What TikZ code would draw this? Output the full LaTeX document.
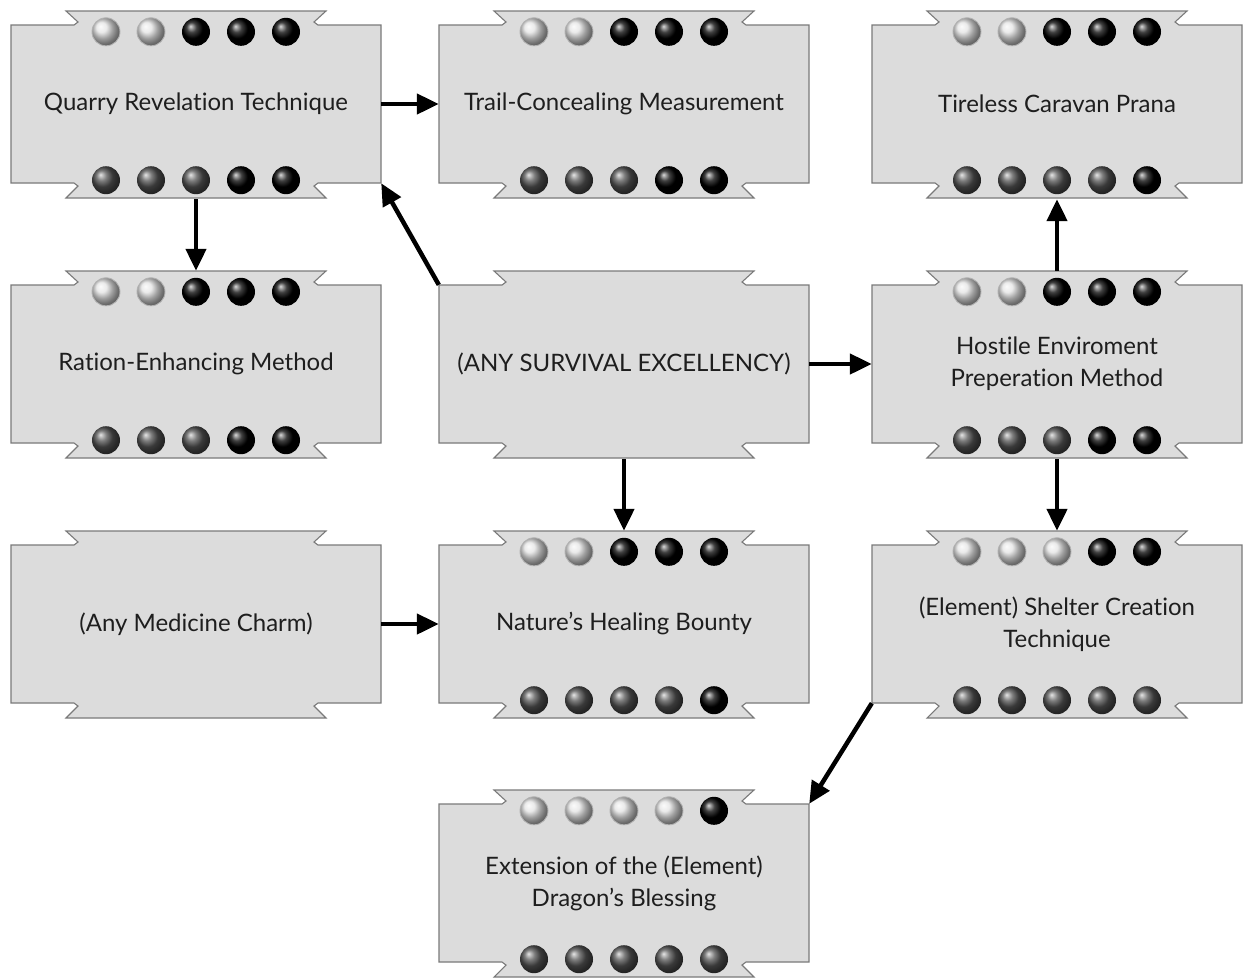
\documentclass[tikz,border=0pt]{standalone}
\usepackage{fontspec}
\setmainfont{Lato}[Ligatures={NoCommon}]
\usetikzlibrary{calc,arrows.meta,shadings}

\definecolor{cardfill}{HTML}{DCDCDC}
\definecolor{cardedge}{HTML}{7A7A7A}
\definecolor{inktext}{HTML}{1E1E1E}

\tikzset{
  card/.style={rectangle, minimum width=370pt, minimum height=158pt,
    inner sep=0pt, align=center, text=inktext,
    font=\fontsize{24}{32}\selectfont},
  bannerline/.style={fill=cardfill, draw=cardedge, line width=1.1pt,
    line join=miter},
  pipL/.style={shading=ball, ball color=gray!22},
  pipLring/.style={draw=gray!60, line width=0.9pt},
  pipD/.style={shading=ball, ball color=black!68},
  pipB/.style={shading=ball, ball color=black},
  link/.style={line width=4.5pt, -{Triangle[length=22pt,width=20pt]}},
}

% banner-shaped card outline drawn around a named node
\newcommand{\bannercard}[1]{%
  \begin{scope}[shift={(#1.center)}]
    \path[bannerline]
      (-185,79) -- (-122,79) -- (-118,82) -- (-130,93)
      -- (130,93) -- (118,82) -- (122,79) -- (185,79)
      -- (185,-79) -- (122,-79) -- (118,-82) -- (130,-94)
      -- (-130,-94) -- (-118,-82) -- (-122,-79) -- (-185,-79) -- cycle;
  \end{scope}}

% two rows of five pips on a card: top list, bottom list (L, D or B)
\newcommand{\pipdraw}[3]{%
  \shade[pip#1] (#2) circle (#3);
  \if L#1\draw[pipLring] (#2) circle (#3);\fi}
\newcommand{\piprows}[3]{%
  \foreach \c [count=\i] in {#2}
    {\pipdraw{\c}{$(#1.north)+(\i*45-135,-7)$}{14}}
  \foreach \c [count=\i] in {#3}
    {\pipdraw{\c}{$(#1.south)+(\i*45-135,3)$}{14}}}

\begin{document}
\begin{tikzpicture}[x=1pt,y=1pt]
\useasboundingbox[fill=white] (0,0) rectangle (1246,-978);

% card positions
\coordinate (p11) at (196,-104);
\coordinate (p12) at (624,-104);
\coordinate (p13) at (1057,-104);
\coordinate (p21) at (196,-364);
\coordinate (p22) at (624,-364);
\coordinate (p23) at (1057,-364);
\coordinate (p31) at (196,-624);
\coordinate (p32) at (624,-624);
\coordinate (p33) at (1057,-624);
\coordinate (p42) at (624,-883);

% card backgrounds
\foreach \p in {p11,p12,p13,p21,p22,p23,p31,p32,p33,p42}
  \bannercard{\p};

% card texts
\node[card] (qrt) at (p11) {Quarry Revelation Technique};
\node[card] (tcm) at (p12) {Trail-Concealing Measurement};
\node[card] (tcp) at (p13) {Tireless Caravan Prana};
\node[card] (rem) at (p21) {Ration-Enhancing Method};
\node[card] (ase) at (p22) {(ANY SURVIVAL EXCELLENCY)};
\node[card] (hep) at (p23) {Hostile Enviroment\\Preperation Method};
\node[card] (amc) at (p31) {(Any Medicine Charm)};
\node[card] (nhb) at (p32) {Nature’s Healing Bounty};
\node[card] (sct) at (p33) {(Element) Shelter Creation\\Technique};
\node[card] (edb) at (p42) {Extension of the (Element)\\Dragon’s Blessing};

% pips
\piprows{qrt}{L,L,B,B,B}{D,D,D,B,B}
\piprows{tcm}{L,L,B,B,B}{D,D,D,B,B}
\piprows{tcp}{L,L,B,B,B}{D,D,D,D,B}
\piprows{rem}{L,L,B,B,B}{D,D,D,B,B}
\piprows{hep}{L,L,B,B,B}{D,D,D,B,B}
\piprows{nhb}{L,L,B,B,B}{D,D,D,D,B}
\piprows{sct}{L,L,L,B,B}{D,D,D,D,D}
\piprows{edb}{L,L,L,L,B}{D,D,D,D,D}

% prerequisite links
\draw[link] (qrt.east) -- (tcm.west);
\draw[link] ([yshift=-16pt]qrt.south) -- ([yshift=14pt]rem.north);
\draw[link] (ase.north west) -- (qrt.south east);
\draw[link] (ase.east) -- (hep.west);
\draw[link] ([yshift=-16pt]ase.south) -- ([yshift=14pt]nhb.north);
\draw[link] ([yshift=14pt]hep.north) -- ([yshift=-16pt]tcp.south);
\draw[link] ([yshift=-16pt]hep.south) -- ([yshift=14pt]sct.north);
\draw[link] (amc.east) -- (nhb.west);
\draw[link] (sct.south west) -- (edb.north east);
\end{tikzpicture}
\end{document}
